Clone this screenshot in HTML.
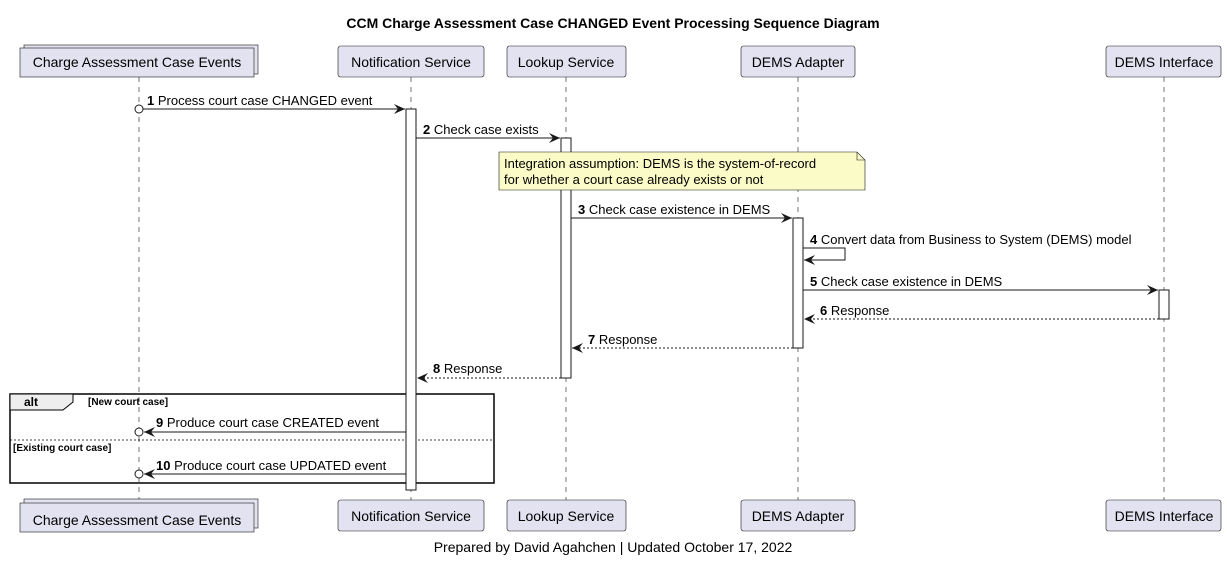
<!DOCTYPE html>
<html><head><meta charset="utf-8"><style>
html,body{margin:0;padding:0;background:#fff;}
svg{display:block;font-family:"Liberation Sans",sans-serif;}
</style></head><body>
<svg width="1227" height="561" viewBox="0 0 1227 561" xmlns="http://www.w3.org/2000/svg">
<defs>
<marker id="a" markerWidth="12" markerHeight="10" refX="11" refY="5" orient="auto" markerUnits="userSpaceOnUse">
<path d="M0,0 L11,5 L0,10 L4,5 Z" fill="#181818"/></marker>
</defs>
<text x="613" y="28" text-anchor="middle" font-size="14" font-weight="bold">CCM Charge Assessment Case CHANGED Event Processing Sequence Diagram</text>
<g stroke="#181818" stroke-width="0.6" stroke-dasharray="5,5">
<line x1="139" y1="77" x2="139" y2="503"/>
<line x1="411" y1="77" x2="411" y2="500"/>
<line x1="566" y1="77" x2="566" y2="500"/>
<line x1="798" y1="77" x2="798" y2="500"/>
<line x1="1164" y1="77" x2="1164" y2="500"/>
</g>
<g fill="#e2e2f0" stroke="#181818" stroke-width="0.6" font-size="14">
<rect x="24" y="45" width="234" height="29"/>
<rect x="20" y="48" width="234" height="29"/>
<rect x="338" y="46" width="146" height="31" rx="2.5"/>
<rect x="507" y="46" width="119" height="31" rx="2.5"/>
<rect x="741" y="46" width="114" height="31" rx="2.5"/>
<rect x="1106" y="46" width="115" height="31" rx="2.5"/>
<rect x="24" y="499" width="234" height="29"/>
<rect x="20" y="503" width="234" height="29"/>
<rect x="338" y="500" width="146" height="31" rx="2.5"/>
<rect x="507" y="500" width="119" height="31" rx="2.5"/>
<rect x="741" y="500" width="114" height="31" rx="2.5"/>
<rect x="1106" y="500" width="115" height="31" rx="2.5"/>
</g>
<g font-size="14" fill="#000" text-anchor="middle">
<text x="137" y="67">Charge Assessment Case Events</text>
<text x="411" y="67">Notification Service</text>
<text x="566" y="67">Lookup Service</text>
<text x="798" y="67">DEMS Adapter</text>
<text x="1164" y="67">DEMS Interface</text>
<text x="137" y="525">Charge Assessment Case Events</text>
<text x="411" y="521">Notification Service</text>
<text x="566" y="521">Lookup Service</text>
<text x="798" y="521">DEMS Adapter</text>
<text x="1164" y="521">DEMS Interface</text>
</g>
<!-- alt frame -->
<rect x="10" y="394" width="484" height="89" fill="none" stroke="#000" stroke-width="1.5"/>
<path d="M10,394 L73,394 L73,402 L63,410 L10,410 Z" fill="#eee" stroke="#000" stroke-width="1"/>
<text x="24" y="406" font-size="12" font-weight="bold">alt</text>
<text x="88" y="405" font-size="10" font-weight="bold">[New court case]</text>
<line x1="10" y1="440" x2="494" y2="440" stroke="#000" stroke-width="0.8" stroke-dasharray="2,2"/>
<text x="13" y="451" font-size="10" font-weight="bold">[Existing court case]</text>
<!-- activations -->
<g fill="#fff" stroke="#181818" stroke-width="1">
<rect x="406" y="109" width="10" height="381"/>
<rect x="561" y="138" width="10" height="240"/>
<rect x="793" y="218" width="10" height="130"/>
<rect x="1159" y="290" width="10" height="29"/>
</g>
<!-- note -->
<path d="M499,152 L857,152 L865,160 L865,190 L499,190 Z" fill="#fbfbc8" stroke="#181818" stroke-width="0.6"/>
<path d="M857,152 L857,160 L865,160" fill="none" stroke="#181818" stroke-width="0.6"/>
<text x="504" y="168" font-size="13">Integration assumption: DEMS is the system-of-record</text>
<text x="504" y="184" font-size="13">for whether a court case already exists or not</text>
<!-- messages -->
<g stroke="#181818" stroke-width="1" fill="none">
<line x1="143" y1="109" x2="405" y2="109" marker-end="url(#a)"/>
<line x1="416" y1="138" x2="560" y2="138" marker-end="url(#a)"/>
<line x1="571" y1="218" x2="792" y2="218" marker-end="url(#a)"/>
<polyline points="803,248 845,248 845,260 804,260" marker-end="url(#a)"/>
<line x1="803" y1="290" x2="1158" y2="290" marker-end="url(#a)"/>
<line x1="1159" y1="319" x2="804" y2="319" stroke-dasharray="2,2" marker-end="url(#a)"/>
<line x1="793" y1="348" x2="572" y2="348" stroke-dasharray="2,2" marker-end="url(#a)"/>
<line x1="561" y1="378" x2="417" y2="378" stroke-dasharray="2,2" marker-end="url(#a)"/>
<line x1="406" y1="432" x2="144" y2="432" marker-end="url(#a)"/>
<line x1="406" y1="474" x2="144" y2="474" marker-end="url(#a)"/>
<circle cx="139" cy="109" r="4" fill="#fff"/>
<circle cx="139" cy="432" r="4" fill="#fff"/>
<circle cx="139" cy="474" r="4" fill="#fff"/>
</g>
<g font-size="13" fill="#000">
<text x="147" y="105"><tspan font-weight="bold">1</tspan> Process court case CHANGED event</text>
<text x="423" y="134"><tspan font-weight="bold">2</tspan> Check case exists</text>
<text x="578" y="214"><tspan font-weight="bold">3</tspan> Check case existence in DEMS</text>
<text x="810" y="244"><tspan font-weight="bold">4</tspan> Convert data from Business to System (DEMS) model</text>
<text x="810" y="286"><tspan font-weight="bold">5</tspan> Check case existence in DEMS</text>
<text x="820" y="315"><tspan font-weight="bold">6</tspan> Response</text>
<text x="588" y="344"><tspan font-weight="bold">7</tspan> Response</text>
<text x="433" y="373"><tspan font-weight="bold">8</tspan> Response</text>
<text x="156" y="427"><tspan font-weight="bold">9</tspan> Produce court case CREATED event</text>
<text x="156" y="470"><tspan font-weight="bold">10</tspan> Produce court case UPDATED event</text>
</g>
<text x="613" y="552" text-anchor="middle" font-size="14">Prepared by David Agahchen | Updated October 17, 2022</text>
</svg>
</body></html>
